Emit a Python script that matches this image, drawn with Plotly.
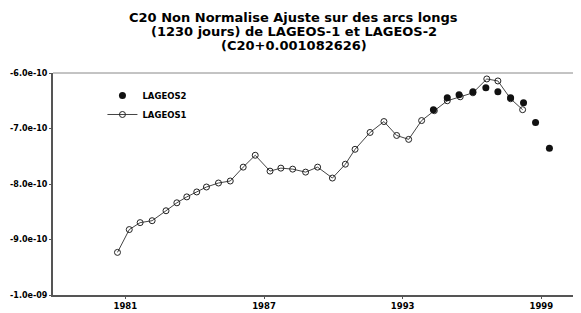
import plotly.graph_objects as go

# LAGEOS-1 (open circles with line)
l1_years = [1980.66, 1981.17, 1981.64, 1982.16, 1982.76, 1983.23, 1983.66, 1984.09,
            1984.51, 1985.03, 1985.54, 1986.10, 1986.62, 1987.26, 1987.73, 1988.24,
            1988.80, 1989.32, 1989.96, 1990.52, 1990.94, 1991.59, 1992.19, 1992.74,
            1993.26, 1993.82, 1994.37, 1994.93, 1995.49, 1996.04, 1996.64, 1997.12,
            1997.67, 1998.19]
l1_vals = [-9.232, -8.821, -8.696, -8.661, -8.482, -8.339, -8.232, -8.143,
           -8.054, -7.982, -7.946, -7.696, -7.482, -7.768, -7.714, -7.732,
           -7.786, -7.696, -7.893, -7.643, -7.375, -7.071, -6.875, -7.125,
           -7.196, -6.857, -6.679, -6.500, -6.429, -6.357, -6.107, -6.143,
           -6.464, -6.661]

# LAGEOS-2 (filled circles)
l2_years = [1994.33, 1994.93, 1995.44, 1996.04, 1996.60, 1997.12, 1997.67, 1998.23,
            1998.75, 1999.35]
l2_vals = [-6.661, -6.446, -6.393, -6.339, -6.268, -6.339, -6.446, -6.536,
           -6.893, -7.357]

x_ticks = [1981, 1987, 1993, 1999]
y_ticks = [-6e-10, -7e-10, -8e-10, -9e-10, -1e-9]
y_labels = ["-6.0e-10", "-7.0e-10", "-8.0e-10", "-9.0e-10", "-1.0e-09"]
title_lines = ["C20 Non Normalise Ajuste sur des arcs longs",
               "(1230 jours) de LAGEOS-1 et LAGEOS-2",
               "(C20+0.001082626)"]

scale = 1e-10

fig = go.Figure()
fig.add_trace(go.Scatter(
    x=l1_years, y=[v * scale for v in l1_vals], mode="lines+markers",
    name="LAGEOS1",
    line=dict(color="#444444", width=1),
    marker=dict(symbol="circle-open", size=6, color="#222222", line=dict(width=1)),
))
fig.add_trace(go.Scatter(
    x=l2_years, y=[v * scale for v in l2_vals], mode="markers",
    name="LAGEOS2",
    marker=dict(symbol="circle", size=7, color="#111111"),
))

# page body has an 8px margin: figure is sized/offset to compensate
fig.update_layout(
    width=573, height=305,
    margin=dict(l=40, r=2, t=65, b=16),
    paper_bgcolor="white", plot_bgcolor="white",
    showlegend=True,
    legend=dict(x=0.094, y=0.964, xanchor="left", yanchor="top",
                traceorder="reversed", bgcolor="rgba(0,0,0,0)",
                font=dict(family="DejaVu Sans", size=8.5, color="black", weight="bold"),
                itemwidth=30, tracegroupgap=0),
    xaxis=dict(
        range=[1977.87, 2000.63], tickvals=x_ticks, ticktext=[str(t) for t in x_ticks],
        showgrid=False, zeroline=False, showline=True, linecolor="#555555", linewidth=2,
        ticks="outside", ticklen=2, tickcolor="#555555",
        tickfont=dict(family="DejaVu Sans", size=8.5, color="black", weight="bold"),
    ),
    yaxis=dict(
        range=[-1e-9, -6e-10], tickvals=y_ticks, ticktext=y_labels,
        showgrid=False, zeroline=False, showline=True, linecolor="#555555", linewidth=2,
        ticks="outside", ticklen=2, tickcolor="#555555",
        tickfont=dict(family="DejaVu Sans", size=8, color="black", weight="bold"),
    ),
)
title_y = [1.25, 1.1875, 1.125]
for txt, yy in zip(title_lines, title_y):
    fig.add_annotation(text=txt, xref="paper", yref="paper", x=0.458, y=yy,
                       xanchor="center", yanchor="middle", showarrow=False,
                       font=dict(family="DejaVu Sans", size=13, color="black",
                                 weight="bold"))
# thin top and right frame lines
fig.add_shape(type="line", xref="paper", yref="paper", x0=0, x1=1, y0=1, y1=1,
              line=dict(color="#888888", width=1))
fig.add_shape(type="line", xref="paper", yref="paper", x0=1, x1=1, y0=0, y1=1,
              line=dict(color="#888888", width=1))

fig.write_html("out.html")
